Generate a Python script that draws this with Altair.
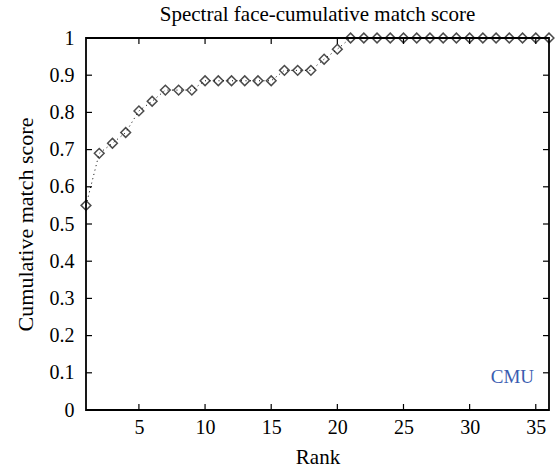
import altair as alt
import pandas as pd

# Cumulative match score by rank
ranks = list(range(1, 37))
scores = [0.55, 0.69, 0.717, 0.746, 0.804, 0.83, 0.86, 0.86, 0.86,
          0.885, 0.885, 0.885, 0.885, 0.885, 0.885,
          0.913, 0.913, 0.913, 0.943, 0.97,
          1.0, 1.0, 1.0, 1.0, 1.0, 1.0, 1.0, 1.0,
          1.0, 1.0, 1.0, 1.0, 1.0, 1.0, 1.0, 1.0]

x_ticks = [5, 10, 15, 20, 25, 30, 35]
y_ticks = [0, 0.1, 0.2, 0.3, 0.4, 0.5, 0.6, 0.7, 0.8, 0.9, 1.0]

df = pd.DataFrame({"rank": ranks, "score": scores})
xt = pd.DataFrame({"rank": x_ticks})
yt = pd.DataFrame({"score": y_ticks})

FONT = "Liberation Serif"

xs = alt.Scale(domain=[1, 36], nice=False, zero=False)
ys = alt.Scale(domain=[0, 1], nice=False)

x_enc = alt.X("rank:Q", scale=xs,
              axis=alt.Axis(values=x_ticks, title="Rank", grid=False,
                            domain=False, ticks=False, labelPadding=7,
                            titlePadding=9, labelOverlap=False))
y_enc = alt.Y("score:Q", scale=ys,
              axis=alt.Axis(values=y_ticks, format="~g",
                            title="Cumulative match score", grid=False,
                            domain=False, ticks=False, labelPadding=12,
                            titlePadding=12, labelOverlap=False,
                            titleFontSize=22))

line = alt.Chart(df).mark_line(color="black", strokeWidth=1,
                               strokeDash=[1, 3.5]).encode(x=x_enc, y=y_enc)
points = alt.Chart(df).mark_point(shape="diamond", filled=False,
                                  color="black", size=95,
                                  strokeWidth=1.5).encode(x=x_enc, y=y_enc)

# inward ticks on all four sides of the frame
tick_style = dict(color="black", strokeWidth=1.2)
xb = alt.Chart(xt).mark_rule(**tick_style).encode(
    x=x_enc, y=alt.value(372), y2=alt.value(366))
xtop = alt.Chart(xt).mark_rule(**tick_style).encode(
    x=x_enc, y=alt.value(0), y2=alt.value(6))
yl = alt.Chart(yt).mark_rule(**tick_style).encode(
    y=y_enc, x=alt.value(0), x2=alt.value(6))
yr = alt.Chart(yt).mark_rule(**tick_style).encode(
    y=y_enc, x=alt.value(463), x2=alt.value(457))

label = alt.Chart(pd.DataFrame({"t": ["CMU"]})).mark_text(
    font=FONT, fontSize=19, color="#3a5cb0", align="right",
    baseline="middle").encode(text="t:N", x=alt.value(448), y=alt.value(339))

chart = alt.layer(line, points, xb, xtop, yl, yr, label).properties(
    width=463, height=372,
    background="white",
    title=alt.TitleParams("Spectral face-cumulative match score",
                          font=FONT, fontSize=21, fontWeight="normal",
                          color="black", offset=3),
    autosize=alt.AutoSizeParams(type="none"),
    padding={"left": 86, "top": 38, "right": 8, "bottom": 63},
).configure_view(stroke="black", strokeWidth=1.8).configure_axis(
    labelFont=FONT, titleFont=FONT, labelFontSize=20, titleFontSize=21,
    labelColor="black", titleColor="black", titleFontWeight="normal"
)

chart.save("out.html", embed_options={"renderer": "svg", "actions": False})
